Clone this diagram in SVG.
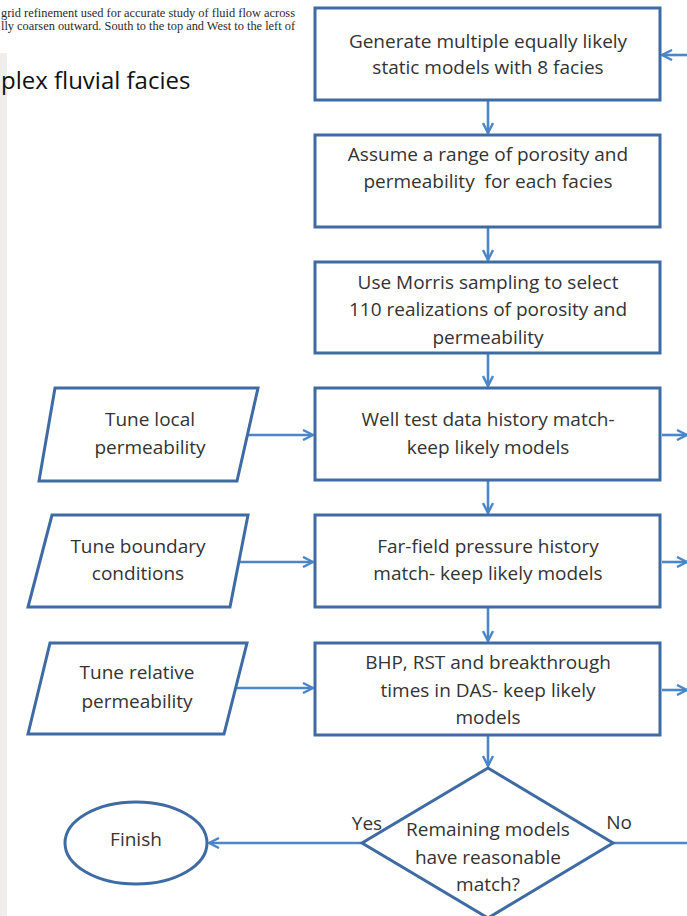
<svg xmlns="http://www.w3.org/2000/svg" width="687" height="916" viewBox="0 0 687 916">
<defs>
<marker id="ah" viewBox="0 0 12 12" refX="11" refY="6" markerWidth="12" markerHeight="12" markerUnits="userSpaceOnUse" orient="auto">
<path d="M1,1 L11,6 L1,11" fill="none" stroke="#4a86c8" stroke-width="2.4"/>
</marker>
</defs>
<style>
.box{fill:#fff;stroke:#3e6ba3;stroke-width:3}
.conn{fill:none;stroke:#4a86c8;stroke-width:2.6}
.t{font-family:"Open Sans","Liberation Sans",Arial,sans-serif;font-size:19px;fill:#333;text-anchor:middle;white-space:pre}
.cap{font-family:"Liberation Serif","Times New Roman",serif;font-size:11.5px;fill:#2a2a2a}
</style>
<rect width="687" height="916" fill="#fff"/>
<rect x="0" y="53" width="7" height="863" fill="#efeeec"/>
<text class="cap" x="1" y="17" textLength="294" lengthAdjust="spacingAndGlyphs">grid refinement used for accurate study of fluid flow across</text>
<text class="cap" x="1" y="30" textLength="294" lengthAdjust="spacingAndGlyphs">lly coarsen outward. South to the top and West to the left of</text>
<text x="1" y="89" font-family="'Open Sans','Liberation Sans',Arial,sans-serif" font-size="24" fill="#111">plex fluvial facies</text>

<g id="connectors">
<line class="conn" x1="687" y1="55" x2="662" y2="55" marker-end="url(#ah)"/>
<line class="conn" x1="488" y1="101" x2="488" y2="133" marker-end="url(#ah)"/>
<line class="conn" x1="488" y1="228" x2="488" y2="260" marker-end="url(#ah)"/>
<line class="conn" x1="488" y1="354" x2="488" y2="386" marker-end="url(#ah)"/>
<line class="conn" x1="488" y1="481" x2="488" y2="513" marker-end="url(#ah)"/>
<line class="conn" x1="488" y1="608" x2="488" y2="641" marker-end="url(#ah)"/>
<line class="conn" x1="488" y1="736" x2="488" y2="766" marker-end="url(#ah)"/>
<line class="conn" x1="247" y1="435" x2="313" y2="435" marker-end="url(#ah)"/>
<line class="conn" x1="238" y1="562" x2="313" y2="562" marker-end="url(#ah)"/>
<line class="conn" x1="235" y1="688" x2="313" y2="688" marker-end="url(#ah)"/>
<line class="conn" x1="662" y1="435" x2="687" y2="435" marker-end="url(#ah)"/>
<line class="conn" x1="662" y1="562" x2="687" y2="562" marker-end="url(#ah)"/>
<line class="conn" x1="662" y1="690" x2="687" y2="690" marker-end="url(#ah)"/>
<line class="conn" x1="613" y1="843" x2="687" y2="843"/>
<line class="conn" x1="362" y1="843" x2="209" y2="843" marker-end="url(#ah)"/>
<text class="t" x="367" y="830">Yes</text>
<text class="t" x="619" y="829">No</text>
</g>

<g id="n1">
<rect class="box" x="315" y="8" width="345" height="92"/>
<text class="t" x="488" y="48">Generate multiple equally likely</text>
<text class="t" x="488" y="74">static models with 8 facies</text>
</g>
<g id="n2">
<rect class="box" x="315" y="135" width="345" height="92"/>
<text class="t" x="488" y="161">Assume a range of porosity and</text>
<text class="t" x="488" y="188">permeability  for each facies</text>
</g>
<g id="n3">
<rect class="box" x="315" y="262" width="345" height="91"/>
<text class="t" x="488" y="289">Use Morris sampling to select</text>
<text class="t" x="488" y="316">110 realizations of porosity and</text>
<text class="t" x="488" y="344">permeability</text>
</g>
<g id="n4">
<rect class="box" x="315" y="388" width="345" height="92"/>
<text class="t" x="488" y="426">Well test data history match-</text>
<text class="t" x="488" y="454">keep likely models</text>
</g>
<g id="n5">
<rect class="box" x="315" y="515" width="345" height="92"/>
<text class="t" x="488" y="553">Far-field pressure history</text>
<text class="t" x="488" y="580">match- keep likely models</text>
</g>
<g id="n6">
<rect class="box" x="315" y="643" width="345" height="92"/>
<text class="t" x="488" y="669">BHP, RST and breakthrough</text>
<text class="t" x="488" y="697">times in DAS- keep likely</text>
<text class="t" x="488" y="724">models</text>
</g>
<g id="p1">
<polygon class="box" points="55,388 258,388 237,481 39,481"/>
<text class="t" x="150" y="426">Tune local</text>
<text class="t" x="150" y="454">permeability</text>
</g>
<g id="p2">
<polygon class="box" points="52,515 248,515 230,607 28,607"/>
<text class="t" x="138" y="553">Tune boundary</text>
<text class="t" x="138" y="580">conditions</text>
</g>
<g id="p3">
<polygon class="box" points="50,643 247,643 224,734 28,734"/>
<text class="t" x="137" y="679">Tune relative</text>
<text class="t" x="137" y="708">permeability</text>
</g>
<g id="d1">
<polygon class="box" points="488,768 613,843 488,918 362,843"/>
<text class="t" x="488" y="836">Remaining models</text>
<text class="t" x="488" y="864">have reasonable</text>
<text class="t" x="488" y="891">match?</text>
</g>
<g id="f1">
<ellipse class="box" cx="136" cy="843" rx="71" ry="41"/>
<text class="t" x="136" y="846">Finish</text>
</g>
</svg>
